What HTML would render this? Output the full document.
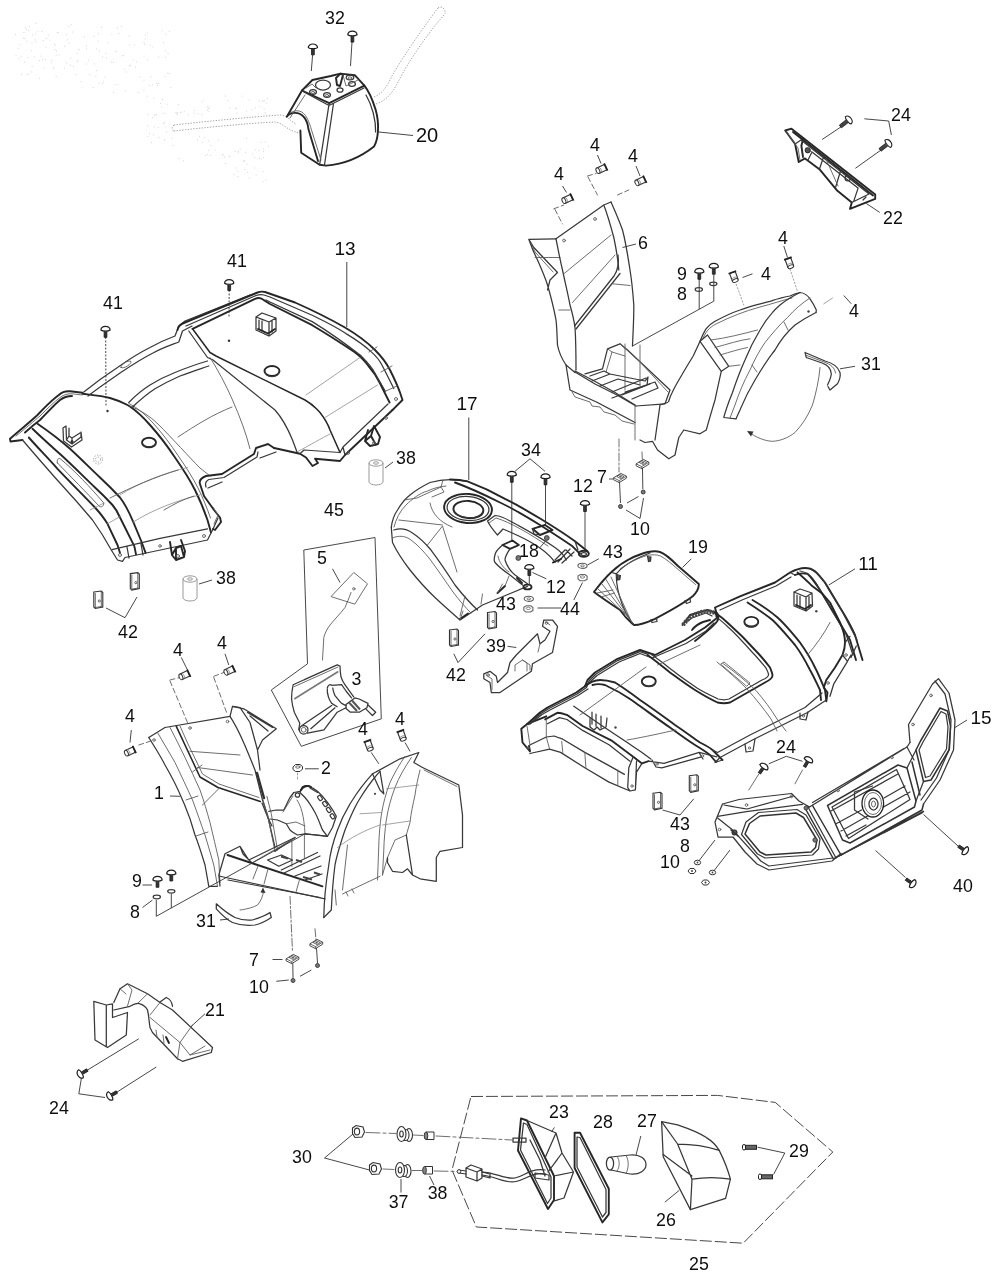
<!DOCTYPE html>
<html><head><meta charset="utf-8">
<style>
html,body{margin:0;padding:0;background:#fff;}
body{width:1000px;height:1281px;overflow:hidden;font-family:"Liberation Sans",sans-serif;}
svg{display:block;}
text{font-family:"Liberation Sans",sans-serif;font-size:17.8px;fill:#111;text-anchor:middle;}
.k{fill:none;stroke:#262626;stroke-width:1.9;stroke-linejoin:round;stroke-linecap:round;}
.m{fill:none;stroke:#383838;stroke-width:1.25;stroke-linejoin:round;stroke-linecap:round;}
.t{fill:none;stroke:#5e5e5e;stroke-width:0.9;stroke-linejoin:round;stroke-linecap:round;}
.f{fill:none;stroke:#8c8c8c;stroke-width:0.8;stroke-linejoin:round;stroke-linecap:round;}
.d{fill:none;stroke:#444;stroke-width:0.8;stroke-dasharray:7 4;}
.g{fill:none;stroke:#969696;stroke-width:0.9;stroke-dasharray:1.3 1.5;}
.l{fill:none;stroke:#333;stroke-width:0.9;}
.w{fill:#fff;}
</style></head><body>
<svg width="1000" height="1281" viewBox="0 0 1000 1281">
<rect width="1000" height="1281" fill="#fff"/>
<defs><filter id="soft" x="0" y="0" width="1000" height="1281" filterUnits="userSpaceOnUse"><feGaussianBlur stdDeviation="0.45"/></filter></defs>
<g filter="url(#soft)">
<!--PARTS-->
<defs>
<!-- pan head screw pointing down, origin at head centre -->
<g id="scr">
<path d="M-4.6,1.2 C-4.8,-3.6 4.8,-3.6 4.6,1.2 C3,2.6 -3,2.6 -4.6,1.2Z" fill="#fff" stroke="#1c1c1c" stroke-width="1.2"/>
<path d="M-1.4,2.4 V8.5 H1.4 V2.4" fill="#333" stroke="#1c1c1c" stroke-width="0.8"/>
</g>
<!-- small clip (part 4) -->
<g id="clip4"><g transform="rotate(-25)">
<path d="M-4.500,-3 H4 V3 H-4.500" fill="#fff" stroke="#333" stroke-width="1.100"/>
<ellipse cx="-4.500" cy="0" rx="1.700" ry="3" fill="#fff" stroke="#333" stroke-width="1"/>
<path d="M4.200,-4 V4" fill="none" stroke="#222" stroke-width="1.800"/>
<path d="M-2,-3 C-0.800,-1 -0.800,1 -2,3" fill="none" stroke="#777" stroke-width="0.700"/>
</g></g>
</defs>

<g id="ghostdots" fill="#cfcfcf"><rect x="65.8" y="33.8" width="0.9" height="0.9"/><rect x="117.2" y="27.7" width="0.9" height="0.9"/><rect x="99.1" y="50.5" width="0.9" height="0.9"/><rect x="24.1" y="61.6" width="0.9" height="0.9"/><rect x="20.9" y="55.8" width="0.9" height="0.9"/><rect x="26.0" y="29.1" width="0.9" height="0.9"/><rect x="81.6" y="86.5" width="0.9" height="0.9"/><rect x="34.4" y="39.4" width="0.9" height="0.9"/><rect x="105.6" y="52.9" width="0.9" height="0.9"/><rect x="149.8" y="44.6" width="0.9" height="0.9"/><rect x="37.6" y="31.2" width="0.9" height="0.9"/><rect x="43.4" y="67.4" width="0.9" height="0.9"/><rect x="115.3" y="51.0" width="0.9" height="0.9"/><rect x="101.0" y="26.9" width="0.9" height="0.9"/><rect x="24.4" y="38.1" width="0.9" height="0.9"/><rect x="121.8" y="55.4" width="0.9" height="0.9"/><rect x="64.3" y="67.7" width="0.9" height="0.9"/><rect x="86.1" y="45.4" width="0.9" height="0.9"/><rect x="139.7" y="76.5" width="0.9" height="0.9"/><rect x="53.3" y="66.8" width="0.9" height="0.9"/><rect x="129.5" y="44.5" width="0.9" height="0.9"/><rect x="168.9" y="31.2" width="0.9" height="0.9"/><rect x="80.6" y="81.1" width="0.9" height="0.9"/><rect x="38.9" y="60.1" width="0.9" height="0.9"/><rect x="21.2" y="74.1" width="0.9" height="0.9"/><rect x="135.0" y="66.7" width="0.9" height="0.9"/><rect x="152.5" y="46.5" width="0.9" height="0.9"/><rect x="124.2" y="68.4" width="0.9" height="0.9"/><rect x="106.0" y="57.6" width="0.9" height="0.9"/><rect x="146.9" y="95.7" width="0.9" height="0.9"/><rect x="89.4" y="73.8" width="0.9" height="0.9"/><rect x="144.0" y="44.2" width="0.9" height="0.9"/><rect x="75.6" y="74.2" width="0.9" height="0.9"/><rect x="18.5" y="58.0" width="0.9" height="0.9"/><rect x="41.4" y="31.1" width="0.9" height="0.9"/><rect x="35.3" y="41.3" width="0.9" height="0.9"/><rect x="27.7" y="57.0" width="0.9" height="0.9"/><rect x="143.6" y="89.4" width="0.9" height="0.9"/><rect x="58.7" y="54.4" width="0.9" height="0.9"/><rect x="165.4" y="33.8" width="0.9" height="0.9"/><rect x="42.7" y="40.1" width="0.9" height="0.9"/><rect x="51.6" y="59.8" width="0.9" height="0.9"/><rect x="107.5" y="42.5" width="0.9" height="0.9"/><rect x="15.6" y="54.7" width="0.9" height="0.9"/><rect x="73.0" y="66.2" width="0.9" height="0.9"/><rect x="164.6" y="75.9" width="0.9" height="0.9"/><rect x="95.9" y="70.2" width="0.9" height="0.9"/><rect x="121.2" y="26.2" width="0.9" height="0.9"/><rect x="156.2" y="82.8" width="0.9" height="0.9"/><rect x="152.3" y="84.2" width="0.9" height="0.9"/><rect x="76.6" y="53.1" width="0.9" height="0.9"/><rect x="31.3" y="71.5" width="0.9" height="0.9"/><rect x="24.8" y="27.3" width="0.9" height="0.9"/><rect x="47.8" y="34.7" width="0.9" height="0.9"/><rect x="68.4" y="26.1" width="0.9" height="0.9"/><rect x="15.0" y="33.8" width="0.9" height="0.9"/><rect x="30.9" y="50.4" width="0.9" height="0.9"/><rect x="111.4" y="33.6" width="0.9" height="0.9"/><rect x="54.6" y="49.1" width="0.9" height="0.9"/><rect x="72.2" y="31.6" width="0.9" height="0.9"/><rect x="88.2" y="59.7" width="0.9" height="0.9"/><rect x="28.5" y="30.0" width="0.9" height="0.9"/><rect x="68.8" y="42.7" width="0.9" height="0.9"/><rect x="145.1" y="34.6" width="0.9" height="0.9"/><rect x="97.9" y="33.4" width="0.9" height="0.9"/><rect x="150.5" y="76.3" width="0.9" height="0.9"/><rect x="56.0" y="50.6" width="0.9" height="0.9"/><rect x="98.6" y="82.8" width="0.9" height="0.9"/><rect x="66.8" y="39.4" width="0.9" height="0.9"/><rect x="148.9" y="84.9" width="0.9" height="0.9"/><rect x="143.5" y="79.7" width="0.9" height="0.9"/><rect x="50.6" y="62.4" width="0.9" height="0.9"/><rect x="70.8" y="24.3" width="0.9" height="0.9"/><rect x="19.4" y="43.8" width="0.9" height="0.9"/><rect x="55.7" y="76.0" width="0.9" height="0.9"/><rect x="165.2" y="56.9" width="0.9" height="0.9"/><rect x="162.1" y="99.1" width="0.9" height="0.9"/><rect x="164.9" y="50.4" width="0.9" height="0.9"/><rect x="49.6" y="39.7" width="0.9" height="0.9"/><rect x="45.9" y="37.9" width="0.9" height="0.9"/><rect x="113.0" y="92.2" width="0.9" height="0.9"/><rect x="146.9" y="59.4" width="0.9" height="0.9"/><rect x="117.5" y="84.4" width="0.9" height="0.9"/><rect x="28.3" y="73.5" width="0.9" height="0.9"/><rect x="157.8" y="83.0" width="0.9" height="0.9"/><rect x="132.8" y="59.3" width="0.9" height="0.9"/><rect x="167.6" y="52.9" width="0.9" height="0.9"/><rect x="128.8" y="35.3" width="0.9" height="0.9"/><rect x="34.9" y="33.8" width="0.9" height="0.9"/><rect x="157.1" y="84.9" width="0.9" height="0.9"/><rect x="168.9" y="73.3" width="0.9" height="0.9"/><rect x="70.0" y="64.8" width="0.9" height="0.9"/><rect x="35.6" y="23.1" width="0.9" height="0.9"/><rect x="167.4" y="72.7" width="0.9" height="0.9"/><rect x="144.7" y="38.5" width="0.9" height="0.9"/><rect x="54.5" y="44.9" width="0.9" height="0.9"/><rect x="52.8" y="67.7" width="0.9" height="0.9"/><rect x="55.7" y="54.7" width="0.9" height="0.9"/><rect x="70.5" y="57.7" width="0.9" height="0.9"/><rect x="93.8" y="63.5" width="0.9" height="0.9"/><rect x="84.1" y="36.3" width="0.9" height="0.9"/><rect x="42.1" y="58.9" width="0.9" height="0.9"/><rect x="128.9" y="65.4" width="0.9" height="0.9"/><rect x="66.2" y="62.4" width="0.9" height="0.9"/><rect x="102.2" y="83.2" width="0.9" height="0.9"/><rect x="31.7" y="65.7" width="0.9" height="0.9"/><rect x="54.0" y="43.6" width="0.9" height="0.9"/><rect x="136.2" y="61.6" width="0.9" height="0.9"/><rect x="103.2" y="81.3" width="0.9" height="0.9"/><rect x="158.3" y="56.6" width="0.9" height="0.9"/><rect x="111.2" y="61.4" width="0.9" height="0.9"/><rect x="95.4" y="76.0" width="0.9" height="0.9"/><rect x="86.0" y="63.6" width="0.9" height="0.9"/><rect x="124.8" y="90.4" width="0.9" height="0.9"/><rect x="162.9" y="42.2" width="0.9" height="0.9"/><rect x="146.9" y="32.7" width="0.9" height="0.9"/><rect x="34.1" y="56.5" width="0.9" height="0.9"/><rect x="26.4" y="40.8" width="0.9" height="0.9"/><rect x="26.5" y="74.2" width="0.9" height="0.9"/><rect x="138.1" y="92.0" width="0.9" height="0.9"/><rect x="39.2" y="77.9" width="0.9" height="0.9"/><rect x="118.7" y="33.2" width="0.9" height="0.9"/><rect x="153.6" y="97.5" width="0.9" height="0.9"/><rect x="77.5" y="60.0" width="0.9" height="0.9"/><rect x="170.4" y="86.9" width="0.9" height="0.9"/><rect x="40.4" y="55.7" width="0.9" height="0.9"/><rect x="95.9" y="48.5" width="0.9" height="0.9"/><rect x="45.7" y="46.8" width="0.9" height="0.9"/><rect x="102.0" y="56.4" width="0.9" height="0.9"/><rect x="17.8" y="47.9" width="0.9" height="0.9"/><rect x="113.0" y="62.0" width="0.9" height="0.9"/><rect x="31.5" y="42.7" width="0.9" height="0.9"/><rect x="57.5" y="32.1" width="0.9" height="0.9"/><rect x="143.6" y="42.2" width="0.9" height="0.9"/><rect x="104.6" y="76.6" width="0.9" height="0.9"/><rect x="29.0" y="26.5" width="0.9" height="0.9"/><rect x="123.0" y="55.2" width="0.9" height="0.9"/><rect x="114.6" y="84.5" width="0.9" height="0.9"/><rect x="86.2" y="48.5" width="0.9" height="0.9"/><rect x="57.1" y="32.1" width="0.9" height="0.9"/><rect x="97.7" y="40.6" width="0.9" height="0.9"/><rect x="32.2" y="34.6" width="0.9" height="0.9"/><rect x="22.9" y="37.7" width="0.9" height="0.9"/><rect x="64.0" y="45.8" width="0.9" height="0.9"/><rect x="134.2" y="44.6" width="0.9" height="0.9"/><rect x="93.5" y="35.9" width="0.9" height="0.9"/><rect x="130.1" y="65.0" width="0.9" height="0.9"/><rect x="44.7" y="59.0" width="0.9" height="0.9"/><rect x="161.7" y="30.3" width="0.9" height="0.9"/><rect x="143.6" y="55.7" width="0.9" height="0.9"/><rect x="92.7" y="87.1" width="0.9" height="0.9"/><rect x="76.7" y="61.5" width="0.9" height="0.9"/><rect x="126.0" y="71.6" width="0.9" height="0.9"/><rect x="78.5" y="49.1" width="0.9" height="0.9"/><rect x="23.5" y="32.1" width="0.9" height="0.9"/><rect x="177.9" y="104.0" width="0.9" height="0.9"/><rect x="252.3" y="153.7" width="0.9" height="0.9"/><rect x="181.1" y="111.7" width="0.9" height="0.9"/><rect x="166.1" y="131.7" width="0.9" height="0.9"/><rect x="264.7" y="141.6" width="0.9" height="0.9"/><rect x="147.1" y="125.4" width="0.9" height="0.9"/><rect x="204.4" y="137.3" width="0.9" height="0.9"/><rect x="171.3" y="137.5" width="0.9" height="0.9"/><rect x="147.6" y="113.9" width="0.9" height="0.9"/><rect x="157.9" y="127.2" width="0.9" height="0.9"/><rect x="183.8" y="110.8" width="0.9" height="0.9"/><rect x="217.9" y="139.9" width="0.9" height="0.9"/><rect x="237.8" y="152.4" width="0.9" height="0.9"/><rect x="233.6" y="174.2" width="0.9" height="0.9"/><rect x="266.2" y="102.6" width="0.9" height="0.9"/><rect x="234.6" y="151.0" width="0.9" height="0.9"/><rect x="254.9" y="149.5" width="0.9" height="0.9"/><rect x="235.8" y="167.6" width="0.9" height="0.9"/><rect x="163.9" y="139.3" width="0.9" height="0.9"/><rect x="244.4" y="169.0" width="0.9" height="0.9"/><rect x="229.6" y="155.9" width="0.9" height="0.9"/><rect x="163.1" y="123.3" width="0.9" height="0.9"/><rect x="214.6" y="149.5" width="0.9" height="0.9"/><rect x="222.8" y="154.7" width="0.9" height="0.9"/><rect x="243.5" y="161.3" width="0.9" height="0.9"/><rect x="207.9" y="140.4" width="0.9" height="0.9"/><rect x="236.2" y="112.7" width="0.9" height="0.9"/><rect x="156.0" y="114.0" width="0.9" height="0.9"/><rect x="235.2" y="108.1" width="0.9" height="0.9"/><rect x="205.0" y="155.0" width="0.9" height="0.9"/><rect x="239.8" y="148.5" width="0.9" height="0.9"/><rect x="224.8" y="95.6" width="0.9" height="0.9"/><rect x="164.8" y="112.9" width="0.9" height="0.9"/><rect x="154.3" y="114.3" width="0.9" height="0.9"/><rect x="228.3" y="155.8" width="0.9" height="0.9"/><rect x="203.4" y="99.6" width="0.9" height="0.9"/><rect x="255.1" y="107.5" width="0.9" height="0.9"/><rect x="265.4" y="179.8" width="0.9" height="0.9"/><rect x="149.1" y="133.0" width="0.9" height="0.9"/><rect x="201.4" y="114.3" width="0.9" height="0.9"/><rect x="172.5" y="145.0" width="0.9" height="0.9"/><rect x="164.2" y="139.4" width="0.9" height="0.9"/><rect x="262.3" y="101.0" width="0.9" height="0.9"/><rect x="246.2" y="137.9" width="0.9" height="0.9"/><rect x="254.3" y="156.9" width="0.9" height="0.9"/><rect x="147.4" y="136.2" width="0.9" height="0.9"/><rect x="164.0" y="121.7" width="0.9" height="0.9"/><rect x="248.5" y="99.8" width="0.9" height="0.9"/><rect x="259.1" y="157.9" width="0.9" height="0.9"/><rect x="267.9" y="145.7" width="0.9" height="0.9"/><rect x="177.2" y="114.0" width="0.9" height="0.9"/><rect x="208.8" y="106.6" width="0.9" height="0.9"/><rect x="254.0" y="167.6" width="0.9" height="0.9"/><rect x="260.8" y="141.8" width="0.9" height="0.9"/><rect x="238.1" y="151.2" width="0.9" height="0.9"/><rect x="259.1" y="100.5" width="0.9" height="0.9"/><rect x="183.0" y="160.4" width="0.9" height="0.9"/><rect x="265.1" y="113.5" width="0.9" height="0.9"/><rect x="167.2" y="103.8" width="0.9" height="0.9"/><rect x="207.1" y="109.6" width="0.9" height="0.9"/><rect x="201.4" y="101.7" width="0.9" height="0.9"/><rect x="175.9" y="113.3" width="0.9" height="0.9"/><rect x="197.1" y="139.4" width="0.9" height="0.9"/><rect x="154.5" y="115.2" width="0.9" height="0.9"/><rect x="264.1" y="100.3" width="0.9" height="0.9"/><rect x="207.9" y="149.7" width="0.9" height="0.9"/><rect x="251.4" y="109.2" width="0.9" height="0.9"/><rect x="179.8" y="112.3" width="0.9" height="0.9"/><rect x="262.4" y="171.2" width="0.9" height="0.9"/><rect x="246.9" y="171.8" width="0.9" height="0.9"/><rect x="264.6" y="112.3" width="0.9" height="0.9"/><rect x="160.2" y="103.1" width="0.9" height="0.9"/><rect x="210.2" y="154.8" width="0.9" height="0.9"/><rect x="260.9" y="158.7" width="0.9" height="0.9"/><rect x="225.3" y="163.0" width="0.9" height="0.9"/><rect x="202.3" y="142.0" width="0.9" height="0.9"/><rect x="162.5" y="112.7" width="0.9" height="0.9"/><rect x="224.0" y="156.5" width="0.9" height="0.9"/><rect x="210.5" y="145.1" width="0.9" height="0.9"/><rect x="194.0" y="109.9" width="0.9" height="0.9"/><rect x="263.0" y="151.2" width="0.9" height="0.9"/><rect x="175.4" y="112.2" width="0.9" height="0.9"/><rect x="263.2" y="157.1" width="0.9" height="0.9"/><rect x="207.3" y="154.1" width="0.9" height="0.9"/><rect x="197.8" y="113.2" width="0.9" height="0.9"/><rect x="229.6" y="107.4" width="0.9" height="0.9"/><rect x="243.4" y="160.4" width="0.9" height="0.9"/><rect x="208.1" y="108.1" width="0.9" height="0.9"/><rect x="246.2" y="110.6" width="0.9" height="0.9"/><rect x="207.0" y="106.4" width="0.9" height="0.9"/><rect x="164.7" y="126.6" width="0.9" height="0.9"/><rect x="154.3" y="126.5" width="0.9" height="0.9"/><rect x="255.7" y="174.6" width="0.9" height="0.9"/><rect x="262.6" y="100.1" width="0.9" height="0.9"/><rect x="263.7" y="108.3" width="0.9" height="0.9"/><rect x="153.0" y="134.4" width="0.9" height="0.9"/><rect x="258.3" y="113.2" width="0.9" height="0.9"/><rect x="237.4" y="176.1" width="0.9" height="0.9"/><rect x="188.0" y="114.7" width="0.9" height="0.9"/><rect x="262.9" y="148.5" width="0.9" height="0.9"/><rect x="178.7" y="158.2" width="0.9" height="0.9"/><rect x="257.9" y="150.1" width="0.9" height="0.9"/><rect x="262.8" y="181.5" width="0.9" height="0.9"/><rect x="193.8" y="112.6" width="0.9" height="0.9"/><rect x="199.0" y="136.4" width="0.9" height="0.9"/><rect x="259.3" y="105.9" width="0.9" height="0.9"/><rect x="244.1" y="160.4" width="0.9" height="0.9"/><rect x="246.6" y="163.7" width="0.9" height="0.9"/><rect x="241.7" y="95.7" width="0.9" height="0.9"/><rect x="151.1" y="142.2" width="0.9" height="0.9"/><rect x="158.7" y="136.9" width="0.9" height="0.9"/><rect x="222.1" y="154.1" width="0.9" height="0.9"/><rect x="237.5" y="171.0" width="0.9" height="0.9"/><rect x="227.4" y="99.9" width="0.9" height="0.9"/><rect x="236.3" y="107.5" width="0.9" height="0.9"/><rect x="176.9" y="112.0" width="0.9" height="0.9"/><rect x="208.4" y="110.7" width="0.9" height="0.9"/><rect x="244.8" y="152.0" width="0.9" height="0.9"/><rect x="266.9" y="98.0" width="0.9" height="0.9"/><rect x="248.7" y="177.6" width="0.9" height="0.9"/><rect x="151.9" y="116.8" width="0.9" height="0.9"/><rect x="161.4" y="106.6" width="0.9" height="0.9"/></g>

<g id="p20">
<!-- ghost handlebar -->
<path class="g" d="M174,125 C200,122 250,117 280,115 C287,115 290,121 296,124 M174,131 C200,128 250,123 276,122 C284,124 288,131 300,133 M174,125 C171,127 172,131 174,131 M374,97 C384,93 388,84 392,76 C402,58 425,25 438,8 M376,104 C388,100 394,90 398,82 C408,62 430,30 445,14 M438,8 C441,5 446,9 445,14"/>
<!-- body -->
<path class="k" d="M302,90.5 L286.8,116.8 C290,112 299,111 304.4,117.6 C307,121 308,125 308.4,129 L318,161 M300.4,130.5 L301.2,152.8 L319.6,164.8 L326,165.6 C345,164 362,156 374,146.4 C378,140 380,125 375.6,109.6 C372,98 368,90 364.4,85.6"/>
<path class="k" d="M302,90.5 L312.4,80 L330.8,76 L340.4,73.6 L354.8,75.2 L364.4,85.6 L329.2,103.2 Z"/>
<path class="m" d="M329.2,103.2 L319.6,164.8 M333.5,103.5 L324.4,165.5 M366,95 C372,105 376,120 375.6,132 M304,92 L329,105.5 L364,88"/>
<path class="t" d="M290,113 C296,109 303,110 307,118 C309,122 311,128 311.5,130 L321,160 M305,95 L290,118"/>
<!-- top face details -->
<ellipse class="m" cx="323" cy="85" rx="7.5" ry="5"/>
<ellipse class="m" cx="313" cy="92" rx="3.4" ry="2.4"/><ellipse class="t" cx="313" cy="92.4" rx="1.6" ry="1.1"/>
<ellipse class="m" cx="327" cy="95" rx="3.4" ry="2.4"/><ellipse class="t" cx="327" cy="95.4" rx="1.6" ry="1.1"/>
<ellipse class="m" cx="340" cy="90" rx="3" ry="2.2"/>
<ellipse class="m" cx="352" cy="84" rx="3.4" ry="2.4"/>
<ellipse class="m" cx="350" cy="77.5" rx="3.8" ry="2.4"/><ellipse class="t" cx="350" cy="78" rx="1.8" ry="1.2"/>
<path class="k" d="M336,78 L340.4,73.6 L343,75 L340,86 L337,85 Z"/>
<path class="t" d="M306,88 L312,84 L316,88 M343,75 L346,86 L358,80"/>
<!-- leader -->
<path class="l" d="M378.8,132 L413,135.5"/>
<!-- screws 32 -->
<path class="l" d="M312.6,55 L311.3,71 M352,42 L350.5,66"/>
<use href="#scr" x="312.9" y="46.4"/><use href="#scr" x="352.4" y="33.6"/>
</g>

<g id="p13">
<!-- left fender rail -->
<path class="k" d="M10,438.8 C20,430 30,422 37.5,415 C45,407 52,400 58.8,395 C62,392 66,391 70,391.3 L82.5,392.8 M10,438.8 L10.500,441.500 L22.500,440 M25,432.5 C30,428 36,423 40,420 C47,413 54,405 60,400 C64,397 68,396 72,396"/>
<path class="t" d="M16,436 C26,428 34,421 40,416 C48,408 54,402 60,397.5 C64,394.5 68,393.5 72,393.8 L82,395"/>
<!-- left fender big arc -->
<path class="k" d="M82.5,393.8 C92,395 102,396 110,398 C117,400 122,402 127.5,405 C136,410 143,417 150,425 C160,436 168,447 175,457.5 C183,469 190,480 195,490 C200,500 204,510 207.5,520 L211,532.5"/>
<path class="t" d="M129,403.500 C138,408 146,415 153,423 C163,434 171,445 178,455.500 C186,467 193,478 198,488 C203,498 207,508 210.500,518"/><path class="t" d="M130,406 C140,410 150,416 158,424 C172,438 190,458 200,468 L210,476"/>
<!-- left side -->
<path class="m" d="M22.500,440 L37.500,457.500 L55,477.500 L77.500,502.500 L92.500,520 L102.500,535 L111.300,550 L117.500,560 L122.500,561.300 L125,557.500 L207.500,540 L213,529 L218,518"/>
<path class="k" d="M37.500,423.800 C48,431 60,440 70,448.800 C80,458 90,468 100,477.500 C107,484 114,491 120,497.500 C125,504 129,512 132.800,520.800 L140.800,540 L145.600,552.800"/>
<path class="k" d="M32.500,428.800 C42,438 52,447 62.500,456.300 C73,466 84,477 95,487.500 C101,493 107,499 112.500,505 C116,509 118,513 120,517.500 L125,527.500 L134.400,546.400 L136,554.400"/>
<path class="k" d="M28.800,437.500 C38,448 48,458 57.500,468.800 C70,482 83,495 95,507.500 C100,513 104,518 107.500,523.800 L117.500,545 L120,553"/>
<path class="m" d="M112,549.600 L160,538.400 L207.500,528.800 M127,547 L129,558 M141,544 L143,555"/>
<path class="t" d="M57.500,463 C56.500,460 58,458 60,458.500 C75,471 90,487 103.800,503 C104,506 101,508 99,506 C86,492 71,477 57.500,463Z"/>
<path class="f" d="M120,495 C140,482 165,473 187.500,467.500 M132.500,522.500 C152,510 178,500 200,495 M90,510 L104,503 M107.500,523.800 L121,516"/>
<!-- latch left -->
<path class="m" d="M63,428 L66,426 L66.5,440 L72,444 L81,437 L81,432 M63,428 L63.5,441 L71.5,447 L82,440 L81,432 M66.5,440 L69,436 L72,438 L72,444 M69,436 L69,428 M72,438 L80,433"/>
<circle cx="72" cy="441.5" r="1.5" fill="#333"/>
<ellipse class="k" cx="149" cy="442.5" rx="7" ry="4.8"/><path class="m" d="M142.5,443.5 C144,448 154,448 155.5,443.5"/>
<circle class="g" cx="98" cy="459.5" r="4.5"/><circle class="g" cx="98" cy="459.5" r="2.5"/>
<circle cx="107.5" cy="411" r="1.2" fill="#333"/>
<circle class="t" cx="120" cy="555" r="1.5"/><circle class="t" cx="160" cy="546" r="1.3"/><circle class="t" cx="204" cy="536" r="1.5"/>
<!-- foot tab left -->
<path class="k" d="M170,542 L172,555 L176,560 L184,557 L185,551 L181,540 M172,555 L176,548 L181,546 L184,557 M176,548 L176,560"/>
<circle class="t" cx="178" cy="556" r="1.5"/>
<!-- middle rim -->
<path class="m" d="M83.8,392 C95,383 106,375 117.5,367.5 C128,360 139,353 150,347.5 C158,343 167,339 175,336 L178.8,326 L185,321 L250,295"/>
<path class="m" d="M88,396 C98,388 110,380 120,373 C132,365 143,358 153,353 C162,348 171,345 178.8,342 L182.5,331 L192,326"/>
<path class="t" d="M121,367.5 C120,365 128,359.5 131,361.5 C132,363.5 124,369.5 121,367.5Z"/>
<!-- middle panel arc -->
<path class="m" d="M128.8,402.5 C135,396 142,390 150,385 C158,380 166,376 175,372.5 C186,368 197,364 207.5,361"/>
<path class="m" d="M132.5,407 C140,400 147,394 155,388.8 C163,384 171,380 180,376 C190,372 200,369 208.8,366"/>
<path class="t" d="M178,437 C196,425 214,414 232,407 M110,498 C132,487 155,477 178,470 M164,510 C174,504 184,499 194,496"/>
<!-- right fender rail -->
<path class="k" d="M177.5,330 C178,326 181,324 185,322.5 L257.5,292.5 C260,291.5 263,291.5 265,292 L295,302.5 C312,310 330,319 345,327.5 C356,334 367,342 375,350 C382,357 387,364 390,370 C395,380 398,387 400,392.5 L402.5,400 L392.5,410"/>
<path class="k" d="M192.500,328.800 L255,298.800 C258,297.500 261,298 263,299.500 L270,304 L312.200,325.200 C327,334 341,343 354.400,351.900 C360,356 365,361 368.500,366 C373,371 377,377 379.700,382.800 L389.600,402.500"/>
<path class="m" d="M186,326 L256,295.500 C259,294.500 262,294.500 264,295 L270,297 L312.200,315.300 C324,321 336,327 346,333.600 C355,339 364,345 371.300,351.900 C376,356 380,361 382.500,366 L393.800,388.500"/>
<path class="m" d="M266,300 L270,302 L312.200,321.600 C329,332 346,344 361.400,356.100 C366,361 371,366 374,371.600 L385.300,391.300"/>
<path class="t" d="M369,352 L377,347 M381,372 L392,366 M385.300,391.300 L397,386"/>
<!-- right fender surfaces -->
<path class="k" style="stroke-width:1.500" d="M192.5,328.8 L210,352.5 L216,356 L305,400 C312,404 316,408 320,412.5 C325,419 328,424 330,430 L340,452.5"/>
<path class="m" d="M188.800,331 L207.5,357.5 L213,360 L275,410 C283,419 288,429 292.5,440 L297,452"/>
<path class="t" d="M210,357.5 C218,370 226,385 232.5,400 C240,417 246,433 250,448.8"/>
<path class="f" d="M306,395 L360,357.5 M325,417.5 L377.5,385 M297,452 C310,445 322,438 330,434"/>
<path class="k" d="M392.5,410 L345,455 L340,461 L315,458.8 L318,463 L312.5,466 L306,457.5 L300,453.8 L277.5,448.8 L274,448"/>
<path class="m" d="M388,404 L343,447 L340,452.5 M345,455 L343,447 M300,453.800 L304,450 L340,452.5"/>
<path class="k" d="M274,448 L268,444 L256,448 L254,454 L222,474 L206,476 C201,478 199,481 200,484 L204,496 L214,510 L220,517.5 L221,522 L215,530 L213,529"/>
<path class="m" d="M258,452 L257,457 L224,477.500 L209,479.500 C206,481 205,484 206,487 M208,488 L222,482 M260,458 L276,452"/>
<path class="t" d="M213,507 L218,515 L214,524"/>
<circle class="t" cx="386" cy="418" r="1.4"/><circle class="t" cx="348" cy="453" r="1.4"/><circle class="t" cx="396" cy="399" r="1.5"/>
<!-- latch right -->
<path class="m" d="M256,317 L262,313 L276,318 L276,331 L269,336 L256,330Z M256,317 L269,322 L276,318 M269,322 L269,336 M259,320 L259,329 M262,321 L262,330.500 M272,321 L272,332"/>
<path class="k" d="M258,329 L268,333.500 L275,329"/>
<ellipse class="k" cx="272" cy="371" rx="7.5" ry="5"/><path class="m" d="M265,372 C266,378 278,378 279,372"/>
<circle cx="229" cy="340.8" r="1.2" fill="#333"/>
<!-- right foot -->
<path class="k" d="M368,430 L365,441 L370,446 L378,444 L380,437 L374,426 M365,441 L371,436 L374,426 M371,436 L376,445"/>
<circle class="t" cx="374" cy="443" r="1.4"/>
<!-- screws & leaders -->
<path class="l" d="M346.8,262 L346.8,327"/>
<path class="l" stroke-dasharray="2 1.5" d="M229.2,290 L229,317.500 M105.700,337 L106,407"/>
<use href="#scr" x="229.2" y="282"/><use href="#scr" x="105.5" y="328.8"/>
<!-- spacers 38 -->
<g stroke="#999" stroke-width="1" fill="none"><ellipse cx="376" cy="463" rx="7" ry="3.2"/><path d="M369,463 V482 C370,486 382,486 383,482 V463"/><ellipse cx="376" cy="463" rx="2.5" ry="1.2"/>
<ellipse cx="190" cy="579" rx="7" ry="3.2"/><path d="M183,579 V598 C184,602 196,602 197,598 V579"/><ellipse cx="190" cy="579" rx="2.5" ry="1.2"/></g>
<path class="l" d="M385,468 L393,462 M199,584 L212,580"/>
</g>

<g id="p6">
<!-- flap -->
<path class="m" d="M528.8,239.3 L556,238.8 M528.8,239.3 L533.8,247.5 L557.5,272.5 L550,280 L547.5,290 M528.8,239.3 C531,246 534,253 537.5,260 C541,268 545,277 547.5,285 C551,297 554,309 556,320 C557,328 557,337 557.5,345 C559,353 562,359 566,365 L575,372.5"/>
<path class="t" d="M531,243 L535,252 L553,272 M535,257.500 L560,257.500"/>
<!-- main panel -->
<path class="m" d="M556,238.8 L603.8,205 L611,202 M603.800,205 C608,216 611,227 613.8,237.5 C616,248 618,259 618.8,270"/>
<path class="m" d="M611,202 C615,211 619,220 622.5,230 C626,243 628,257 630,270 C632,282 633,294 633.8,305 C634,318 633,332 632.5,346"/>
<path class="m" d="M556,238.8 C558,249 560,260 562.5,270 C565,282 568,294 570,305 C572,312 574,320 575,327.5 C576,342 576,356 576,370"/>
<path class="m" d="M574.5,326 L614,276 C618,270 619,262 618,255 M576,329 L620,273.500"/>
<path class="t" d="M563.8,273.8 L611,235 M572.5,302.5 L615,255 M612.500,283.800 L630,285.500 M558.8,310 L570,310"/>
<circle class="t" cx="595" cy="219" r="1.4"/><circle class="t" cx="564" cy="240.500" r="1.4"/>
<path class="l" d="M622.5,247.5 L636,244"/>
<!-- floor -->
<path class="m" d="M566,365 L570,390 L597.5,402.5 L635,422.5 M575,371 L592.500,380 L615,392.500 L635,405"/>
<path class="m" d="M575,372 L595,384 L616,394.500 L636,406"/>
<path class="m" d="M585,373.8 L602.5,368.8 L607.5,348.8 L620,343.8 L627.5,350 L670,390 L665,403.8 L636,406"/>
<path class="t" d="M607.5,348.8 L612,352 L625,356 M612,352 L606,372 M625,344 L625,390 M640,345 L640,385 M620,343.8 L640,362 L668,392"/>
<path class="m" d="M592,381 L610,374 L645,381 L648,377 L647,385 L612,398 M600,386 L618,379 L640,385 M610,374 L604,371 L590,376 M625,392 L655,382 L658,388 L632,399"/>
<path class="m" d="M612,392 L646,378 M622,395 L650,384"/>
<path class="t" d="M572,392 L575,397 L590,402 L592,406 L600,407 L604,412 L615,415 L622,421 L634,424 M635,405 L635,440"/>
<!-- long leader -->
<path class="l" d="M632.5,346 L713.8,301.2 L713.800,275 M699.2,309.2 L699.2,278"/>
<!-- fender -->
<path class="m" d="M668.500,401.700 C670,397 671,394.500 672.300,392.200 C675,386.500 678.500,380.500 681.800,375 C685.500,368.500 689.500,362 693.200,356 L698.900,343.700 L700,341.300 C702,336 704,332 706,328.8 C709,325 712,323 715,321.3 C723,317 731,313 740,310 C750,306 760,304 770,301.3 C777,299 784,297 790,296 C794,294 797,293 800,292.5 C805,293 808,296 810,298.8 C813,303 815,307 816.3,310 L816,312.5"/>
<path class="t" d="M703,338 C707,329 712,326 717,323.500 C730,317 745,311 760,307 C772,304 783,300 792,298"/>
<path class="m" d="M800,292.5 C793,296 786,300 780,305 C772,312 765,321 760,330 C754,340 749,350 745,360 C740,371 736,382 732.5,392.5 C729,401 726,409 723.8,417.5 L736,418.8"/>
<path class="m" d="M816,312.5 C809,316 802,320 795,325 C787,332 780,341 775,350 C767,360 761,370 755,380 C749,390 744,400 740,410 L736,418.8"/>
<path class="t" d="M810,298 C802,303 794,310 787.5,317.5 C779,325 772,334 765,342.5 C759,351 754,361 750,370 C744,381 739,393 735,405 L730,418 M784,322 L788,330 M752,365 L757,372"/>
<path class="m" d="M700,341.3 L707.5,335 L728.8,366.3 L721.3,371.3Z"/>
<path class="t" d="M711,340 C727,338 742,334 757.5,330 M715,347.500 C728,344 740,340 750,338.800 M720,355 C730,352 740,349 747.500,347.500 M728.8,366.3 L740,365"/>
<path class="m" d="M721.3,371.3 C719,381 717,391 715,400 C712,410 709,420 706.3,430 L700,433.8 L683.8,430 L678.8,437.5 L675,455 L668.8,458.8 L657.5,450 L652.5,441.3 L645,442.5 L640,440"/>
<path class="m" d="M667.5,402.5 L660,405 L655,440"/>
<circle cx="808.500" cy="311.500" r="1.2" fill="#444"/>
<!-- part 31 strip -->
<path class="m" d="M805,352.5 L825,361 C833,363 838,367 840,372.5 C841,377 839,381 837.5,383.8 L830,390 L828,386.500 M806.3,357.5 L822,363 C828,365 831,369 831.3,373.8 C831,378 829,382 827.5,385 M805,352.500 L806.3,357.5"/>
<path class="t" d="M805.500,355 L824,362 C831,364.500 835,368 835.500,373"/>
<path class="l" d="M840,368.8 L855,366.3"/>
<path class="t" d="M820,367.5 C819,380 816,393 812.5,405 C808,416 802,425 795,432.5 C788,438 780,441 772.5,441.3 C764,441 756,437 749,432.500"/>
<path d="M747,431 L753.500,431.500 L751,436.500Z" fill="#333"/>
<!-- clips 4 -->
<g class="t" stroke-dasharray="5 3"><path d="M553.8,208.8 L563.8,205 M555,209.500 L562.5,224 M587.5,176 L596,173.500 M588,177 L597.5,195 M617.5,195 L628.8,190"/></g>
<path class="l" d="M562.500,186 L566.500,192.500 M597.500,155 L601,163.500 M636,166 L640,176 M783.800,246 L787.500,257.500 M742.5,277.5 L752.5,273.8 M843.8,295.5 L851.3,303.8"/>
<path class="f" stroke-dasharray="1.500 2" d="M735,281 L743.8,305 M790,269 L797.5,291.3"/>
<path class="f" d="M823.800,303.800 L832.500,298"/>
<use href="#clip4" x="568" y="198.800"/><use href="#clip4" x="602" y="168.800"/><use href="#clip4" x="641" y="181"/>
<use href="#clip4" x="733.800" y="276.300" transform="rotate(-85 733.800 276.300)"/><use href="#clip4" x="789.300" y="262.500" transform="rotate(-85 789.300 262.500)"/>
<!-- screws 9 / washers 8 -->
<use href="#scr" x="699.300" y="270.800"/><use href="#scr" x="713.800" y="265.800"/>
<ellipse class="m" cx="698.800" cy="289.500" rx="3.600" ry="1.800"/><ellipse class="m" cx="713.300" cy="283.800" rx="3.600" ry="1.800"/>
</g>

<g id="p22">
<path class="k" d="M791.5,128.7 L875.2,194.4 L875.2,198.9 L850,208.8 L851.8,202.5 L837.4,190.8 L819.4,169.2 L805,158.4 L798.7,162 L795.1,144 L785.2,130.5 L791.5,128.7"/>
<path class="k" d="M793,132 L873,195.500 M803.2,138.6 L801.4,145.8 L803,157"/>
<path class="m" d="M795.1,144 L801,140 L869,194 L851.8,202.5 M823.9,155.7 L819.4,169.2 M841,169.2 L835.6,187.2 M858.1,188.1 L853.6,201.6 M808,160 L812,152 L858,188 M863,200 L866,197"/>
<path class="t" d="M786,131 L798,148 L800,160 M826,159 L838,186 M812,152 L806,148"/>
<circle class="m" cx="847.7" cy="178.2" r="2.6"/>
<circle cx="807.7" cy="150.3" r="2.6" fill="#555" stroke="#222" stroke-width="1"/>
<path class="l" d="M866.2,203.4 L879.7,212.4 M864.4,118.8 L888.7,121 L891.4,135 M841,126.9 L822.1,139.5 M880.6,150.3 L855.4,168.3"/>
<g transform="translate(849.1,119.7) rotate(52)"><path d="M-4.600,1.200 C-4.800,-3.600 4.800,-3.600 4.600,1.200 C3,2.600 -3,2.600 -4.600,1.200Z" fill="#fff" stroke="#222" stroke-width="1.100"/><path d="M-1.700,2.400 V11 H1.700 V2.400" fill="#444" stroke="#222" stroke-width="0.800"/></g>
<g transform="translate(888.7,143.1) rotate(52)"><path d="M-4.600,1.200 C-4.800,-3.600 4.800,-3.600 4.600,1.200 C3,2.600 -3,2.600 -4.600,1.200Z" fill="#fff" stroke="#222" stroke-width="1.100"/><path d="M-1.700,2.400 V11 H1.700 V2.400" fill="#444" stroke="#222" stroke-width="0.800"/></g>
</g>

<defs>
<g id="wash"><ellipse cx="0" cy="0" rx="4.600" ry="2.600" fill="#fff" stroke="#5a5a5a" stroke-width="1.100"/><ellipse cx="0" cy="0" rx="1.800" ry="1" fill="none" stroke="#5a5a5a" stroke-width="0.800"/></g>
<g id="nut44"><path d="M-4.500,-1.500 L-2,-3 L2.500,-3 L4.600,-1.200 L4.600,1.800 L2,3.200 L-2.500,3.200 L-4.500,1.500Z" fill="#fff" stroke="#666" stroke-width="1.100"/><ellipse cx="0" cy="-0.500" rx="2.200" ry="1.200" fill="none" stroke="#666" stroke-width="0.800"/></g>
<g id="clip42"><path d="M-4.500,-8 L3,-9 L4.500,-7.500 L4.500,7 L-3,8.500 L-4.500,7Z" fill="#fff" stroke="#333" stroke-width="1.100"/><path d="M-3,-7 L-3,8.500 M3,-9 L3,6.500 L4.500,7 M3,6.500 L-3,7.500" fill="none" stroke="#444" stroke-width="0.800"/><circle cx="1" cy="1" r="1.100" fill="none" stroke="#444" stroke-width="0.800"/></g>
</defs>
<g id="p17">
<path class="m" d="M391.300,527.500 C392,521 394,515 397.500,510 C401,504 405,499 410,495 C416,490 423,486 430,482.500 C437,480.500 444,479.500 450,479.500 C456,479.500 462,480 467.500,481.300"/><path class="k" d="M450,479.500 C456,479.500 462,480 467.500,481.300 C480,486 493,492 505,498.800 C518,505 531,513 542.500,520 C554,527 565,534 575,541.300 L587.500,551.300"/>
<path class="k" d="M455,482.500 C470,488 485,495 500,502.500 C514,509 527,517 540,525 C551,532 562,539 572.500,546.300 L580,553.800"/>
<path class="m" d="M391.300,527.500 L392.500,542.500 C397,552 403,561 410,570 C418,580 426,589 435,597.500 C443,605 452,613 460,620 L482.500,605 L527.500,586.300"/>
<path class="t" d="M394,527 C396,519 400,511 406,505 C412,499 420,493 427.500,491 C434,488 440,486.500 446,486 M398.800,520 L442.500,525 M427.500,545 L442.500,526 L457,572 M404,500 L417,498 L441,487 L444,492 L432,497 M441,487 L443,480"/>
<path class="m" d="M393.800,530 C400,528 407,529 412.500,533 C420,538 426,544 431,550 C440,562 448,574 455,585 C462,594 470,603 477.500,610"/>
<path class="t" d="M392.500,538 C399,535 406,536 411,540 C418,545 424,552 429,558 C438,570 446,582 453,592 C459,600 465,607 471,613"/>
<!-- ring -->
<g transform="rotate(5 468 508.500)"><ellipse class="k" cx="468" cy="508.500" rx="24" ry="14.500"/><ellipse class="m" cx="468" cy="508.500" rx="21" ry="12"/><ellipse class="k" cx="468.500" cy="509.500" rx="15" ry="8.600"/><path class="m" d="M453.500,511 C456,520 481,520 483,510"/></g>
<path class="t" d="M430,503 C432,514 440,522 452,527"/>
<!-- slot -->
<path class="m" d="M487.500,521 L495,515.500 C500,516 505,518 510,521 C527,530 544,540 555,547.500 C560,551 564,555 566.300,560 M487.500,521 C490,526 493,530 497.500,535 M497.500,535 L503,529 C515,534 530,541 540,548 C547,553 552,558 555,562.500"/>
<path class="t" d="M489,523 L496,518 C510,522 530,534 548,546"/>
<!-- tabs -->
<path class="k" d="M532.500,528.800 L545,525 L552.500,530 L540,535Z M502.500,545 L512.500,540.500 L518.800,545 L510,548.800Z"/>
<path class="m" d="M532.500,528.800 L534,534 L540,535 M502.500,545 C498,549 495,552 495,555 C494,558 494,561 495,562.500 C499,567 504,571 510,575 L522.500,585 M510,548.800 C507,553 505,557 505,560 C507,566 510,571 515,575 L527.500,583.800"/>
<path class="t" d="M498,556 C499,562 503,568 509,572"/>
<!-- right end -->
<ellipse class="k" cx="583.800" cy="553.800" rx="5" ry="3"/><ellipse class="m" cx="583.800" cy="554" rx="2.600" ry="1.500"/>
<ellipse class="k" cx="527.500" cy="587" rx="4" ry="2.400"/>
<path class="m" d="M575,541.300 L578,550 M566,550 L572,556 M555,560 L565,550 M558,562 L570,549 M562,563 L574,552"/>
<path class="k" d="M553,562.500 L561,559 M522,583 L517,578"/>
<!-- bottom marks -->
<path class="k" d="M460,619 L468,613.500 M497.500,593 L505,586"/>
<path class="t" d="M465,596 L460,616 M482.500,594 L481,604 M502.500,584 L497.500,593 M460,620 L463,611 M505,586 L509,576"/>
<!-- leaders -->
<path class="l" d="M468.800,417.500 L468.800,480 M530,458.800 L515,471.300 M530,458.800 L545,471.300 M511.800,481 L511.800,541.300 M545.500,484 L545.500,525 M585,511 L585,550 M540,547.500 L546,540.500 M532.500,572.500 L546.300,578.800 M587.500,565 L598.800,558.800 M582.500,582.500 L573.800,600 M537.500,608 L561.300,608 M458,662.500 L453.800,653.800 M458,662.500 L485,633.800 M507.500,646.300 L516.300,647.500"/>
<path class="l" d="M529.300,575 L529.300,585"/>
<use href="#scr" x="511.800" y="473.800"/><use href="#scr" x="545.500" y="476.300"/><use href="#scr" x="585" y="503"/><use href="#scr" x="529.300" y="567"/>
<circle cx="546.800" cy="538" r="2.400" fill="#777" stroke="#333" stroke-width="0.900"/><circle cx="518.300" cy="558" r="2.400" fill="#777" stroke="#333" stroke-width="0.900"/>
<use href="#wash" x="582.500" y="565.800"/><use href="#nut44" x="582.500" y="577.500"/>
<use href="#wash" x="528.800" y="598.800"/><use href="#nut44" x="528.300" y="608.800"/>
<use href="#clip42" x="454" y="638"/><use href="#clip42" x="492" y="620.500"/>
<!-- bracket 39 -->
<path class="m" d="M483.800,673.800 L490,671.300 L496.300,676.300 L497.500,682.500 L507.500,672.500 L510,662.500 L516.300,655 L537.500,633.800 L540,643.800 L545,640 L550,631.300 L542.500,626.300 L543.800,620 L552.500,620 L557.500,626.300 L552.500,652.500 L532.500,663.800 L531.300,671.300 L500,692.500 L491.300,692.500 L490,682.500 L483.800,678.800Z"/>
<path class="t" d="M515,671 L515,665 L522.500,660 L530,665 L530,670 M522.500,660 L527,663 L527,671 M546,622 L550,625 M486,675 L492,679 L492,690 M540,643.800 L538,652"/>
<circle class="t" cx="488" cy="675" r="1.300"/><circle class="t" cx="546.500" cy="623" r="1.300"/>
</g>

<g id="p19">
<path class="k" d="M594,592 C600,584 606,577 612,571.500 C620,564 630,558 640,554.500 C648,551.500 655,550.500 660,552 C666,554 672,560 678,566 C685,572 693,579 698.800,584 C699,588 697,592 693,596 C684,603 670,611 655,618.800 C648,622 640,625 634,625 C630,622 625,617 620,610 C611,604 602,598 594,592Z"/>
<path class="m" d="M612,572.500 L616.300,573.800 C622,567 634,559 650,553 M616.300,573.800 C616,584 619,596 622.500,605 C625,612 629,619 634,625"/>
<path class="t" d="M598,589 L625,614 M602,584 L628,617 M606,579.500 L630,620 M611,577 L632,623"/>
<path d="M647.500,556 L648.500,561.500 L650.500,561 L651,556.500 M617,574 L617.500,580 L619.800,579.500 L620.500,575" fill="#555" stroke="#333" stroke-width="1.200"/>
<path class="m" d="M685,600.500 L686.500,603.500 L690.500,602 L690,598.500 M651,619.500 L652,622.500 L657,621.500 L656.500,618"/>
<path class="t" d="M620,569 C628,563 638,558 647,555.500 C652,554.500 657,554.500 660.500,556 C666,559 672,564 677,568.500 L695.500,584.500 M597,593 L613,590 M601,597 L614.500,593"/>
<path class="l" d="M682.500,567.500 L691.300,558.800"/>
</g>
<g id="p11">
<!-- left end -->
<path class="k" d="M521.300,728.800 L527.500,723.800 L546.300,716.300 M521.300,728.800 L522.500,742.500 L530,751.300 L529,746"/>
<path class="k" d="M527.500,723.800 L540,712.500 L547.500,707.500 L576.300,692.500 L585,686.300 L587.500,680 L595,672.500 L617.500,658.800 L640,650 L647.500,652.500 L655,655 L685,640 L705,627.500 L717.500,617.500 L715,612.500 L707.500,610 L690,615 L682.500,625"/>
<path class="m" d="M530,724 L542,714.500 L550,710 L578,695.500 L588,689 M590,682 L597,675.500 L619,662 L640,653.500 L652,658 L686,643.500 L706,631 L714,623 M686,622 L692,618 L706,613 L712,616"/>
<path class="m" d="M528.500,724.500 L541,713.500 L548.500,708.700 L577,694 L586.500,687.500 L589,681 L596,674 L618,660.300 L640,651.700 L648,654.300"/>
<path d="M683,625 C687,619.500 693,614.500 700,612.500 C705,611 711,611 716,613.500" fill="none" stroke="#4a4a4a" stroke-width="4.200" stroke-dasharray="2.200 0.900"/><path class="k" d="M717,613 C719,616 718.500,619 717,621.500 C713,627 704,634 695,641 M692,630 C695,626 699,623.500 703,622 L710,620"/>
<!-- scoop -->
<path class="k" d="M647.500,655 C656,661 663,667 670,672.500 C679,679 687,685 695,690 C703,695 710,699 717.500,702.500 C722,703.500 726,703.500 730,702.500 L765,682.500 C770,680 773,678 772.500,675 C772,672 771,670 770,667.500 C765,661 760,655 755,650 C747,641 738,632 730,625 C725,620 720,616 715,612.500"/>
<path class="m" d="M652,655 C661,661 668,667 674,671.500 C682,678 690,683 697,688 C705,693 712,696 718,699 C722,700 726,700 729,699 L762,680 C767,678 769,676 768.500,674 C768,672 767,670 766,668 C761,662 757,657 752,652 C744,643 736,634 728,627 C724,623 720,620 716,616.500"/>
<!-- band left -->
<path class="k" d="M585,686.300 C590,682 595,680 600,680 C605,680 610,681 615,682.500 C624,688 632,694 640,700 C652,708 664,717 675,725 C684,731 692,737 700,742.500 C705,745 709,747 712.500,750 L722.500,760"/>
<path class="k" d="M592.500,685 C596,684 601,684 605,685 C616,690 626,696 635,702.500 C647,711 659,720 670,727.500 C679,734 687,740 695,745 C700,748 705,751 710,755 L716,762"/>
<!-- band right -->
<path class="k" d="M752.500,600 C761,605 770,611 777.500,617.500 C786,625 793,634 800,642.500 C806,651 811,659 815,667.500 C819,675 822,683 825,690 L826.300,700"/>
<path class="k" d="M747.500,602.500 C756,608 765,614 772.500,620 C781,628 788,637 795,645 C801,653 806,662 810,670 C814,677 817,684 820,690 L821,700"/>
<!-- top right rail -->
<path class="k" d="M717.500,617.500 L715,607.500 L740,596.300 L775,582.500 L790,572.500 C795,570 800,568 805,568 C809,568 812,569 815,571.300 C819,575 822,579 825,582.500 L840,607.500 C846,617 851,626 855,635 L862.500,660"/>
<path class="k" d="M795,575 C799,573 803,573 807.500,573.800 C812,578 816,584 820,590 L835,615 L850,640 L856,660"/>
<path class="m" d="M790,572.500 L795,575 M800,571 C808,572 812,577 816,583 L831,609 L846,634 L853,655 M812,570 C820,574 824,581 829,590 L843,613 L857,640"/>
<path class="m" d="M720,610 L742,600 L776,586 L791,577"/>
<path class="k" d="M797.500,572.500 C803,577 808,582 812.500,586.300 L822.500,593.800 L830,602.500 L840,622.500 C843,629 845,636 845,642.500 C845,647 844,651 842.500,655 L835,667.500 L826.300,680 L823.800,687.500 L827.500,692.500 L826.300,701.300"/><path class="m" d="M845,642.500 L850,636.300 M842.500,655 L847.500,661.300 L851,655 M847.500,661.300 L833.800,683.800 L830,696.300 M851,657.500 L856.300,646"/>
<!-- front bottom -->
<path class="m" d="M826.300,700 L807.500,712.500 L752.500,740 L720,757.500 L715,762.500 L722.500,760 M822,693 L805,707.500 L750,735 L717.500,752.500 L712.500,750"/>
<path class="m" d="M800,713 L800,719 L806,720 L808,712 M745,744 L746,752 L753,751 L755,739"/>
<circle class="t" cx="803.500" cy="716" r="1.100"/><circle class="t" cx="749.500" cy="748" r="1.100"/><circle class="t" cx="828" cy="683" r="1.300"/><circle class="t" cx="846" cy="655" r="1.300"/>
<!-- left lower panel -->
<path class="k" d="M545.200,719.400 L557.300,712.800 C561,713 564,714 567.200,715 L582.600,726 L611.200,740.300 L633.200,756.800 L642,763.400 L648.600,761.200"/>
<path class="m" d="M547.400,723.800 L559.500,717.600 L567,719.500 L582.600,730.400 L609,744.700 L630,761.200"/>
<path class="m" d="M529.800,745 L546.300,737 L554,736 L562.800,739.200 L584.800,752.400 L609,765.600 L624.400,774.400"/>
<path class="m" d="M529.800,753.500 L549.600,749.100 L560.600,752.400 L584.800,767.800 L609,782.100 L630,791 L627.700,787.600 L628.800,767.800 L633.200,756.800 M636.500,761 L635.400,789.800 L630,791 M642,763.400 L636.500,772.200 L635.400,789.800"/>
<path class="t" d="M546.300,720.500 L546.300,737 L549.600,749.100 M561.700,741.400 L562.800,752.400 M584.800,752.400 L585.900,767.800 M617.800,770 L617.800,785.400 M527,726 L530,745"/>
<path class="m" d="M573.800,706.200 L602.400,726 L642,752.400 L650.800,759"/>
<path class="m" d="M648.600,761.200 L664,763.400 L699.200,752.400 L716.800,756.800 M661.800,767.800 L701.400,756.800 M652,760 L656,767 L662,767.800 M699,752.500 L703,759"/>
<circle class="t" cx="632" cy="786" r="1.200"/><circle class="t" cx="657" cy="764" r="1.200"/><circle class="t" cx="702.500" cy="756" r="1.200"/><circle class="t" cx="528" cy="748" r="1.200"/>
<!-- holes, latches -->
<ellipse class="k" cx="648.800" cy="681.300" rx="7" ry="4.800"/><path class="m" d="M642,682.500 C644,688 654,688 655.500,682.500"/>
<ellipse class="k" cx="751.300" cy="621.700" rx="7" ry="4.800"/><path class="m" d="M744.500,623 C746,628.500 756,628.500 758,623"/>
<path class="m" d="M590,718 L590,727 L594,730 L597,727 L600,730 L606,727 L607,718 M592,712 L592,724 M596,714 L596,726 M601,716 L601,728"/>
<circle cx="615.500" cy="727.500" r="1.200" fill="#444"/>
<path class="m" d="M794,592 L800,589 L812,593 L812.500,606 L806,611 L794,606Z M794,592 L806,597 L812,593 M806,597 L806,611 M797,595 L797,606 M800,596 L800,607.500 M809,596.500 L809,608"/>
<path class="k" d="M796,605 L805,609 L811,605"/>
<circle cx="816.300" cy="611.300" r="1.200" fill="#444"/>
<!-- creases -->
<path class="t" d="M580,715 L646,667 M627,740 C645,737 662,733 676,730 M657.500,665 L700,645 M830,622.500 C824,634 816,645 807.500,655"/>
<path class="t" d="M717,662 C728,671 738,680 747,689 C756,699 764,709 771,719 L777,731 M723,663.500 C735,672 746,681 756,690.500 C764,700 771,709 777,719 L786,731 M721,664 L724,662 L750,683 L747,686Z"/>
<path class="l" d="M828.800,585 L855,568.800"/>
<!-- clips 43 -->
<use href="#clip42" x="657.500" y="801.300"/><use href="#clip42" x="693.800" y="783.800"/>
<path class="l" d="M680,815 L662.500,810 M680,815 L693.800,798.800"/>
<!-- screws 24 -->
<g transform="translate(764.300,766.300) rotate(35)"><use href="#scr"/></g><g transform="translate(808.800,759.500) rotate(30)"><use href="#scr"/></g>
<path class="l" d="M786.300,756.300 L768.800,763.800 M786.300,756.300 L802.500,761.300"/>
<path class="t" d="M758.800,774 L748.800,790 M802.500,770 L795,783.800"/>
</g>

<g id="p15"><style>#p15 .k{stroke-width:1.5;stroke:#333}</style>
<!-- left section -->
<path class="m" d="M722.500,804 L739,799.500 L791.500,793.500 L799,801 L809.500,807 M722.500,804 L715,822 L718,837 L733,837 L745,852 L757,864 L769,870 L832,861 L841,853.500"/>
<path class="m" d="M717.600,816.400 L746.400,811.600 L802.400,804.400 M724,805 C732,806.500 740,808 747,809 L792,796.500 M717.600,818 L733.600,830.800 L760.800,861 L768.800,866 L832.800,858"/>
<path class="k" d="M749.500,823.500 L760,816 L796,813 L803.500,817.500 L817,840 L815.500,847.500 L811,852 L766,855 L760,852 L745,834Z"/>
<path class="m" d="M746,822 L758.500,812.500 L797,809.500 L806,815 L820,839 L818.500,849 L812.500,855 L765,858 L757.500,854 L741.500,834.500Z"/>
<path class="k" d="M805,808 L833.500,859 M812.500,805.500 L841,855"/>
<path class="m" d="M808,807 L836,858"/>
<circle cx="734.500" cy="832.500" r="2.600" fill="#555" stroke="#222"/><path class="k" d="M731,830 L738,836"/>
<circle cx="815" cy="840" r="2.200" fill="#777" stroke="#333" stroke-width="0.800"/><circle cx="806" cy="808" r="2" fill="#777" stroke="#333" stroke-width="0.800"/>
<!-- centre -->
<path class="m" d="M809.500,807 L907,747 L910,742.500 M812.500,802.500 L904,748.500"/>
<path class="k" d="M827.500,805.500 L898,765 L907,768 L916,801 L914.500,807 L850,843 L842.500,840Z"/>
<path class="m" d="M832,807 L896.500,769.500 L910,799.500 L848.500,838.500Z M831,811 L898,774 M836.500,823.500 L861.500,810 M841,831 L910,792 M884,798 L905,786 M846,836 L866,825"/>
<path class="m" d="M854.500,792 L872.500,786 M854.500,810 L868,819 M854.500,792 L854.500,810"/>
<ellipse cx="872.800" cy="803.500" rx="10.800" ry="13.500" fill="#fff" stroke="#222" stroke-width="1.300"/><ellipse class="t" cx="873" cy="803.500" rx="8.500" ry="11"/><ellipse class="m" cx="873.500" cy="804" rx="4.500" ry="6"/><ellipse class="t" cx="873.500" cy="804" rx="2" ry="3"/>
<path class="k" d="M841,855 L922,810 L923.500,804 M835,858 L923.500,811.500"/>
<path class="m" d="M838,856.500 L922,813"/>
<!-- right upright -->
<path class="m" d="M910,742.500 L908.500,724.500 L932.500,684 L938.500,678.600 L949,693 L955,720 L953.500,750 L940,780 L923.500,804"/>
<path class="m" d="M935,681 L945,694 L951,720 L949.500,749 L936.500,778 L921,800"/>
<path class="k" d="M920.500,741 L940,708 L947.500,711 L950.500,726 L949,750 L931,780 L923.500,781.500 L916,750Z"/>
<path class="m" d="M923,742 L941,711.500 L946,714 L948,727 L946.500,749 L930,776 L925.500,777.500 L919,750Z M907,768 L916,750 M916,801 L923.500,781.500 M907,747 L914,760"/>
<path class="k" d="M912,762 L920,795"/>
<circle class="t" cx="931" cy="695.400" r="1.300"/><circle class="t" cx="913" cy="724.500" r="1.300"/><circle class="t" cx="892" cy="757.500" r="1.300"/><circle class="t" cx="838" cy="790.500" r="1.300"/><circle class="t" cx="791.500" cy="796.500" r="1.300"/><circle class="t" cx="746.500" cy="805" r="1.300"/><circle class="t" cx="719.500" cy="829.500" r="1.300"/>
<!-- leaders, screws -->
<path class="l" d="M955,727.500 L967,720 M923.500,814.500 L958,846 M875.500,850.500 L905.500,877.500"/>
<g transform="translate(965.500,851) rotate(125)"><use href="#scr"/></g><g transform="translate(913,884) rotate(125)"><use href="#scr"/></g>
<path class="l" d="M715,840 L698,862 M730,850 L713,872"/>
<g fill="#fff" stroke="#333" stroke-width="1"><ellipse cx="697.500" cy="862.500" rx="3.200" ry="2.300"/><ellipse cx="712.500" cy="872.500" rx="3.200" ry="2.300"/>
<path d="M688,871 L690,868.500 L694,868.500 L696,871 L694,873.500 L690,873.500Z M701.500,882.500 L703.500,880 L707.500,880 L709.500,882.500 L707.500,885 L703.500,885Z"/></g>
<circle cx="692" cy="871" r="1" fill="#444"/><circle cx="705.500" cy="882.500" r="1" fill="#444"/><circle cx="697.500" cy="862.500" r="0.900" fill="#444"/><circle cx="712.500" cy="872.500" r="0.900" fill="#444"/>
</g>

<defs>
<g id="clip7" transform="scale(0.8)"><path d="M-8,1 L1,-4.500 L8,-1 L8,1.500 L-1,7 L-8,3.500Z" fill="#fff" stroke="#333" stroke-width="1.100"/><path d="M-8,1 L-1,4.500 L8,-1 M-1,4.500 L-1,7 M-4,-0.500 L1,2 L5,-0.500 L0,-3Z" fill="none" stroke="#333" stroke-width="0.900"/><circle cx="0.500" cy="-0.500" r="1.500" fill="#666"/></g>
<g id="nut10"><circle r="2" fill="#777" stroke="#333" stroke-width="0.900"/></g>
</defs>
<g id="p1">
<!-- top panel -->
<path class="m" d="M165,727.500 L230,716.300 L232.500,706.300 L240,707.500 M148.800,737.500 L165,727.500"/>
<path class="m" d="M148.800,737.500 C154,746 160,755 165,765 C172,777 178,789 182.500,800 C188,812 192,824 195,835 C199,845 202,855 205,865 L208.800,886.300 L217.500,886.300"/>
<path class="t" d="M157.500,732.500 C163,742 169,752 175,762.500 C181,775 187,788 192.500,800 C197,812 201,824 205,835 C208,845 211,855 213.800,865 L217.500,886.300"/>
<path class="t" d="M170,727.500 C175,737 180,747 185,757.500 C190,768 195,779 200,790 C204,801 207,812 210,822.500 C213,835 216,848 218.800,860 L220,882.500"/>
<path class="k" style="stroke-width:1.600" d="M176.300,726.300 L185,745 L200,777 L218,787.500 L260.300,801.500"/>
<path class="t" d="M180,726 L188,744 L202.500,774 L219,784 L259,797.500"/>
<path class="m" d="M230,716.300 C235,724 239,732 242.500,740 C247,750 251,760 255,770 L262.500,800 L267.500,815 L275,847.500"/>
<path class="t" d="M190,751.300 L240,755 M197.500,767.500 L252.500,775 M202.500,805 L220,787.500 M192.500,772 L202,765 M186,800 L198,796 M196,836 L208,832"/>
<circle class="t" cx="190" cy="728" r="1.300"/><circle class="t" cx="227.500" cy="721.500" r="1.300"/><circle class="t" cx="154" cy="740" r="1.300"/>
<!-- right flap -->
<path class="m" d="M232.500,706.300 L243.800,708.800 L276.300,728.800 L262.500,740 L257.500,750 L260,770 M240,707.500 L250,722.500 L257.500,750 M247.500,712.500 L272.500,727.500 M250,716 L268,731"/>
<path d="M257,773 L264,798" fill="none" stroke="#333" stroke-width="2.400" stroke-linecap="round"/>
<path class="m" d="M262,803 L268,818 L272,826"/>
<!-- tank -->
<path class="m" d="M268.800,811.300 L276.300,810 L283.800,810 C286,806 288,801 290,797.500 L293.800,792.500 L300,791.300 L302.500,786.900 C305,785.500 308,785.500 310,786.900 C313,788 315,789.500 317.500,791.300 C321,794.500 324,798 327.500,802.500 C331,807 334,812 336.300,816.300 L332.500,827.500 L327.500,836.300 L317.500,835 L305,833.800 L297.500,835 C294,833 292,832 290,830 L286.300,823.800 L277.500,820 L270,819"/>
<path class="m" d="M302.500,786.900 L300,792.500 L305,797.500 C309,802 312,807 315,812.500 C318,818 320,824 322.500,830 L327.500,836.300 M310,788 L317.500,792.500"/>
<path class="k" d="M301,790 C303,786 308,785 311,787"/>
<path class="t" d="M293,796 L283,812 M297,800 C301,806 304,815 305,833.800 M286.300,823.800 L296,822 L305,826"/>
<g class="m"><rect x="318.300" y="795.500" width="3.400" height="5" rx="1" transform="rotate(-35 320 798)"/><rect x="323.300" y="801.500" width="3.400" height="5" rx="1" transform="rotate(-35 325 804)"/><rect x="327" y="807.500" width="3.400" height="5" rx="1" transform="rotate(-35 328.700 810)"/><rect x="330.800" y="813.800" width="3.400" height="5" rx="1" transform="rotate(-35 332.500 816.300)"/></g>
<circle class="m" cx="297.500" cy="795" r="2.200"/>
<path class="t" d="M261.900,796.300 L267.500,815 L275,851.300 M266.900,796.300 L271.300,813.800 L277.500,850"/>
<!-- floor -->
<path class="m" d="M225,853.800 L240,846.300 L248.800,860 L295,837.500 M225,853.800 L218.800,875 L220,886 M218.800,876 L325,898.800 M240,846.300 L243,854 L251,862"/>
<path class="k" d="M227.500,855 L250,862.500 L322.500,886.300"/>
<path class="m" d="M228,880 L320,897.500 M275,851.300 L295,837.500 M305,833.800 L327.500,836.300"/>
<path class="t" d="M291.900,840 L291.900,866.300 M304.400,833.800 L304.400,857.500 M258,866 L253,879 M268,869 L264,884 M300,878 L296,892 M252.500,862.500 L295,838"/>
<path class="m" d="M267.500,860 L281.300,855 L292.500,860 L278.800,866.300Z M281.300,870 L317.500,852.500 M284,873 L320,856 M295,876 L321,866 M305,880 L322,874"/>
<path d="M281,856.500 L288,858.500 M296,860 L302,862 M314,872.500 L320,874.500 M303,877 L312,879.500" fill="none" stroke="#444" stroke-width="2"/>
<!-- long leader -->
<path class="l" d="M156.300,916.300 L305,833.800 M156.300,916.300 L156.300,900 M171.300,908 L171.300,894"/>
<!-- fender arcs -->
<path class="m" d="M372.500,773.800 C365,782 358,791 352.500,800 C346,810 341,820 337.500,830 C333,842 330,854 328.800,865 C326,882 324,900 323.800,917.500"/>
<path class="m" d="M380,771.300 C372,780 365,790 359,800 C353,810 349,820 345,830 C341,842 337,854 335,865 C333,880 332,895 331.300,910 L323.800,917.500"/>
<path class="m" d="M372.500,773.800 L400,758.800 L418.800,752.500 L413.800,762.500 L422.500,767.500"/>
<path class="t" d="M405,756.300 C399,765 394,774 390,782.500 C386,793 383,804 381.300,815 C380,825 379,835 378.800,845 L377.500,880 M411.300,757.500 C405,767 399,777 395,787.500 C391,798 388,809 386.300,820 C385,830 384,840 383.800,850 L382.500,875"/>
<path class="t" d="M420,770 C418,778 416,787 415,795 C413,804 411,813 410,822.500 L406.300,835 L395,840 L387.500,857.500 L382.500,875"/>
<path class="m" d="M372.500,773.800 L380,790 L383.800,793.800 M380,771.300 L383.800,793.800"/>
<circle cx="375" cy="793.800" r="1.100" fill="#444"/>
<path class="f" d="M360,813.800 L381.300,812.500 M386.300,788.800 L418.800,785 M382.500,825 L410,821 M337.500,847.500 C350,838 365,830 380,825"/>
<path class="t" d="M347.500,845 L342.500,890 M335,890 L336.300,905 M342.500,894 L380,876.300 M346,892 L348,896 M352,889 L354,893"/>
<!-- splash shield -->
<path class="m" d="M422.500,767.500 L458.800,785 L462.500,815 L462.500,847.500 L440,851.300 L436.300,857.500 L436.300,881.300 L420,878.800 L412.500,875 L407.500,868.800 L402.500,872.500 L392.500,871.300 L387.500,862.500 L387.500,857.500 M406.300,835 L412.500,875"/>
<path class="t" d="M424,770 L457,786.500"/>
<!-- part 31 strip -->
<path class="m" d="M216.300,903.800 C222,909 228,914 235,917.500 C241,920 247,920.500 252.500,920 C259,918 265,916 270,912.500 L271.300,917.500 C266,921 260,924 255,925 C247,926 239,925 232.500,922.500 C226,919 221,914 216.300,908.800Z"/>
<path class="t" d="M240,910 C248,909 254,907 257.500,905 C261,901 263,896 263.500,891"/><path d="M263,887.500 L265.500,893 L260.500,892.500Z" fill="#333"/>
<path class="l" d="M220,920 L229,919"/>
<!-- screws -->
<use href="#scr" x="157.500" y="878.800"/><use href="#scr" x="171.300" y="872.500"/>
<ellipse class="m" cx="156.800" cy="897" rx="3.600" ry="1.800"/><ellipse class="m" cx="171.300" cy="891.300" rx="3.600" ry="1.800"/>
<path class="l" d="M142.500,885 L152,885 M142.500,907.500 L152.500,900 M170,796 L180,796.300"/>
<!-- clips 4 -->
<g class="t" stroke-dasharray="5 3"><path d="M170,680 L180,677.500 M170,681 L187.500,722.500 M213.800,676.300 L223.800,672.500 M213.800,677.500 L227.500,715 M138.800,745 L153.800,740"/></g>
<path class="l" d="M181.300,657.500 L187.500,670 M225,653.800 L228.800,665 M131.300,730 L130,742.500 M371.300,752.500 L378.800,763.800 M405,742.500 L410,751.300"/>
<use href="#clip4" x="185" y="675"/><use href="#clip4" x="230" y="670.500"/><use href="#clip4" x="130.500" y="751.300"/>
<use href="#clip4" x="368.800" y="745" transform="rotate(-85 368.800 745)"/><use href="#clip4" x="401.800" y="735" transform="rotate(-85 401.800 735)"/>
<!-- nut 2 -->
<path d="M293,767 L295.500,764.500 L300,764.500 L302.500,766.500 L302.500,769 L300,771.500 L295.500,771.500 L293,769.500Z" fill="#fff" stroke="#333" stroke-width="1"/><ellipse class="t" cx="297.800" cy="767" rx="2.200" ry="1.200"/>
<path class="l" d="M305,768.800 L318.800,768.800"/><path class="f" stroke-dasharray="2 2" d="M297.500,773 L297.500,780"/>
<!-- clips 7, nuts 10 -->
<path class="t" stroke-dasharray="8 2 2 2" d="M290,896.300 L292.500,952 M315,928.800 L316,940"/>
<path class="l" d="M292.800,963 L293,978 M316.500,948 L317.500,963 M272.500,959.500 L282.500,959.500 M276.300,981.300 L288.800,980 M300,976.300 L311.300,970"/>
<use href="#clip7" x="292.500" y="958"/><use href="#clip7" x="316.300" y="943"/>
<use href="#nut10" x="293" y="980.500"/><use href="#nut10" x="317.500" y="965.500"/>
</g>
<g id="box3">
<path class="l" d="M303.800,550 L375,537.500 L381.300,718.800 L301.300,746.300 L271.300,690 L307.500,663.800Z"/>
<path class="t" d="M331.300,596.300 L353.800,572.500 L367.500,583.800 L355,603.800Z"/><circle class="t" cx="353.800" cy="588.800" r="1.200"/>
<path class="t" d="M351,592.500 C349,598 347,603 345,607.500 C340,614 334,620 330,625 C327,629 325,633 323.800,637.500 L322.500,660"/>
<path class="l" d="M332.500,568.800 L340,582.500"/>
<path class="m" d="M293.200,684.700 L337.200,664.900 L340,666 C340,670 340.500,674 341,677 C342,680 343,682 344.900,684.700 L353.700,696.800 M293.200,684.700 C292,690 291.500,695 291.600,699 C292,704 293,708 294.300,712.200 L299.800,723.200 L298.700,729.800"/>
<path class="t" d="M294.500,686.500 L338,667"/>
<path d="M294.300,699 L338.300,671.500" fill="none" stroke="#777" stroke-width="1.600"/>
<path class="m" d="M327.300,688 C328,685 330,684 331.700,685.300 L341.600,684.700 M327.300,689 C327,692 327.500,694 328.400,696.800 C329,699 330,701 331.700,703.400 L337.200,706.700 M332.800,688 C333,691 334,693 335,695.700 C337,698 339,701 341.600,703.400 L346,705.600 M341.600,684.700 L346,691 L351.500,697.900"/>
<path class="m" d="M302,725.400 L331.700,705.600 M307.500,733.100 L324,729.800 L337.200,712.200 L346,707.800 M310.800,728.700 L335,707.800"/>
<circle class="m" cx="303.700" cy="729.800" r="4.300"/><circle class="t" cx="303.700" cy="729.800" r="2.400"/>
<path class="m" d="M346,704.500 L354.800,697.900 L359.200,699 L368,703.400 L366.900,707.800 L359.200,712.200 L350.400,712.200 L346,708.500Z"/>
<path d="M349,702.500 L357,711 M352,700.500 L360,709.500" fill="none" stroke="#555" stroke-width="2"/>
<path class="m" d="M368,705 L375.700,712.200 L372.400,715.500 L365.800,708.900"/>
</g>

<g id="p21">
<path class="m" d="M93.800,1001.300 L106.300,1005 L112.500,1003.800 L112.500,1017.500 L127.500,1012.500 L126.300,1035 L107.500,1047.500 L95,1040Z M106.300,1005 L106.300,1046"/>
<path class="m" d="M113.800,1002.500 L120,988.800 L127.500,983.800 L147.500,993.800 L160,1002.500 L172.500,1010 L212.500,1047.500 L211.300,1052.500 L182.500,1061.300 L177.500,1058.800"/>
<path class="m" d="M113.800,1010 L130,1006.300 C134,1004 138,1003 140,1003.800 C144,1005 146,1007 147.500,1010 C149,1016 149,1022 150,1027.500 L152.500,1032.500 L177.500,1058.800"/>
<path class="t" d="M127.500,983.800 L132,990 L127.500,1006 M120,988.800 L126,994 M147.500,993.800 L138,1003 M160,1002.500 L150,1015 M150,1017.500 L180,1042.500 L177.500,1058.800 M180,1042.500 L192.500,1025 M180,1042.500 L190,1055 L210,1050 M156,1030 L157,1037 M163,1035 L164,1043 M190,1055 L205,1046"/>
<path class="m" d="M160,1002 L166.300,997.500 C170,999 172,1002 172.500,1006.300"/>
<path class="k" d="M166,1037 L169,1043"/>
<path class="l" d="M191.300,1026.300 L205,1013.800 M87.500,1070 L138.800,1038.800 M116.300,1092.500 L156.300,1067 M81.300,1078.800 L78.800,1093.800 L105,1097.500"/>
<g transform="translate(80,1074.300) rotate(-120)"><use href="#scr"/></g><g transform="translate(109.500,1096.300) rotate(-120)"><use href="#scr"/></g>
</g>
<g id="clips42L">
<use href="#clip42" x="98.300" y="600"/><use href="#clip42" x="134.800" y="581.600"/>
<path class="l" d="M125,617.700 L106,608 M125,617.700 L137,597"/>
</g>

<g id="tail">
<path class="l" stroke-dasharray="12 3" d="M471,1096.500 L717.600,1095.400 L775.200,1102.400 L832.800,1152 L743.200,1243.200 L476.400,1227 L452,1170Z"/>
<!-- nuts 30 -->
<g fill="#fff" stroke="#333" stroke-width="1.100">
<path d="M352.500,1128 L356,1125.500 L363,1127 L364.500,1132 L362,1137 L355,1137.500 L352.500,1133.500Z"/><ellipse cx="357" cy="1131.500" rx="2.600" ry="3.400"/>
<path d="M369.500,1165 L373,1162.500 L380,1164 L381.500,1169 L379,1174 L372,1174.500 L369.500,1170.500Z"/><ellipse cx="374" cy="1168.500" rx="2.600" ry="3.400"/>
</g>
<!-- grommets 37 -->
<g fill="#fff" stroke="#333" stroke-width="1.100">
<ellipse cx="409" cy="1135" rx="3.500" ry="6.500"/><ellipse cx="405.500" cy="1135" rx="3.500" ry="5.500"/><ellipse cx="401.500" cy="1134" rx="4.500" ry="7.500"/><ellipse cx="401.500" cy="1134" rx="1.800" ry="3"/>
<ellipse cx="407.500" cy="1171" rx="3.500" ry="6.500"/><ellipse cx="404" cy="1171" rx="3.500" ry="5.500"/><ellipse cx="400" cy="1170" rx="4.500" ry="7.500"/><ellipse cx="400" cy="1170" rx="1.800" ry="3"/>
</g>
<!-- spacers 38 -->
<g fill="#fff" stroke="#333" stroke-width="1">
<path d="M426,1132 H434 V1139.500 H426Z"/><ellipse cx="426" cy="1135.800" rx="1.800" ry="3.800" fill="#888"/>
<path d="M424.500,1166.500 H432.500 V1174 H424.500Z"/><ellipse cx="424.500" cy="1170.300" rx="1.800" ry="3.800" fill="#888"/>
</g>
<path class="t" stroke-dasharray="14 3 3 3" d="M366,1132.500 L396,1133.500 M413,1135 L423,1135.500 M436,1136 L512,1140 M383,1169 L394,1169.500 M412,1170.500 L422,1170.500 M434,1171 L460,1171.500"/>
<path class="l" d="M324.500,1158 L353,1134 M324.500,1158 L369.500,1170 M401,1179 L401,1192.500 M429.500,1176 L434,1185"/>
<!-- housing 23 -->
<path class="k" d="M521,1118.400 L527,1120.500 L554,1176 L554,1200 L548,1209 L518,1150.500Z"/>
<path class="m" d="M523.500,1123 L527,1124.500 L551,1177 L551,1198 L547.500,1203.500 L520.500,1150Z"/>
<path class="m" d="M527,1120.500 L556,1133 L562,1153 L573.500,1172 L564,1198 L554,1201 M556,1133 L545,1158 M562,1153 L548,1172 M554,1176 L573.500,1172 M530,1140 L540,1160 L545,1176"/>
<path class="m" d="M513,1138 H526 V1142 H513Z"/>
<path class="m" d="M482,1172 C495,1172 505,1180 515,1178 C525,1176 530,1168 545,1170 M482,1175 C495,1176 505,1184 516,1181.500 C527,1179 532,1172 546,1174"/>
<path class="m" d="M466,1168 L471,1165 L482,1169 L482,1178 L477,1181 L466,1177Z M466,1168 L477,1172 L482,1169 M477,1172 L477,1181"/>
<path class="m" d="M459,1170 L466,1171 M459,1173 L466,1174 M482,1172 L490,1174 L490,1178 L482,1176"/><circle cx="459" cy="1171.500" r="1.800" fill="#fff" stroke="#333"/>
<path class="m" d="M535,1173 L549,1175 L549,1180 L535,1178Z"/>
<!-- gasket 28 -->
<path class="k" d="M574.600,1132.800 L580,1132.800 L608.800,1188.800 L608.800,1214.400 L602.400,1222.400 L574.600,1168Z"/>
<path class="m" d="M577,1137 L580,1137.500 L606,1189.500 L606,1212.500 L602.500,1217 L577,1167Z"/>
<!-- bulb 27 -->
<path class="m" d="M611,1157 L630,1155 C640,1154 646,1159 646,1164.500 C646,1170 640,1175 630,1174 L611,1170"/>
<ellipse class="m" cx="610" cy="1163.500" rx="3.600" ry="6.500"/><path class="t" d="M617,1156.500 C620,1160 620,1167 617,1171 M626,1155.500 C629,1160 629,1168 626,1173.500"/>
<!-- lens 26 -->
<path class="m" d="M661.600,1121.600 L677.600,1124.800 C690,1129 700,1133 706.400,1137.600 C712,1141 716,1145 719.200,1150.400 C724,1160 728,1170 730.400,1179.200 L725.600,1198.400 L690.400,1209.600 L663.200,1156.800Z"/>
<path class="m" d="M661.600,1121.600 L677.600,1144 L692,1179.200 L690.400,1209.600 M677.600,1144 C692,1144 706,1146 719.200,1150.400 M663.200,1154.500 L692,1176 M692,1179.200 C705,1177 718,1177 730.400,1179.200"/>
<!-- screws 29 -->
<g stroke="#222" stroke-width="1" fill="#666"><rect x="742.500" y="1144.500" width="3" height="5.500" rx="1.500" fill="#fff"/><rect x="745.500" y="1145.300" width="11" height="4"/><rect x="758.500" y="1174" width="3" height="5.500" rx="1.500" fill="#fff"/><rect x="761.500" y="1174.800" width="11" height="4"/></g>
<path class="l" d="M784.800,1153 L757.600,1147.200 M784.800,1153 L773.600,1174.400 M640.800,1136 L636,1155.200 M679.200,1190.400 L664.800,1202.200 M554.400,1127.400 L551.500,1132"/>
</g>

<g id="mid7">
<path class="t" stroke-dasharray="8 2 2 2" d="M619,439 L619,472 M642,452 L642.300,459"/>
<path class="l" d="M619.500,482 L620.500,503 M642.500,468 L642.800,489 M640,518.500 L626,510 M640,518.500 L643.500,498 M627,503 L638.500,496.500 M609,479 L613,479"/>
<use href="#clip7" x="620" y="477"/><use href="#clip7" x="642.500" y="463"/>
<use href="#nut10" x="620.500" y="506.500"/><use href="#nut10" x="643.200" y="492"/>
</g>

<!--/PARTS-->
<g id="labels">
<text x="335" y="24">32</text>
<text x="427" y="142.1" style="font-size:20px">20</text>
<text x="345" y="254.7" style="font-size:19px">13</text>
<text x="237" y="267">41</text>
<text x="113" y="309">41</text>
<text x="406" y="464">38</text>
<text x="226" y="584">38</text>
<text x="334" y="516">45</text>
<text x="322" y="564">5</text>
<text x="356.500" y="684.500">3</text>
<text x="128" y="638">42</text>
<text x="178" y="656">4</text>
<text x="222" y="649">4</text>
<text x="130" y="722">4</text>
<text x="363" y="735">4</text>
<text x="400" y="725">4</text>
<text x="159" y="799">1</text>
<text x="326" y="774">2</text>
<text x="137" y="887">9</text>
<text x="135" y="918">8</text>
<text x="206" y="927">31</text>
<text x="254" y="966">7</text>
<text x="259" y="993">10</text>
<text x="215" y="1016">21</text>
<text x="59" y="1114">24</text>
<text x="302" y="1163">30</text>
<text x="398.600" y="1207.500">37</text>
<text x="437.600" y="1199.400">38</text>
<text x="559" y="1118">23</text>
<text x="603" y="1128">28</text>
<text x="647" y="1127">27</text>
<text x="666" y="1226">26</text>
<text x="799" y="1157">29</text>
<text x="699" y="1270">25</text>
<text x="467" y="409.7" style="font-size:19px">17</text>
<text x="531" y="456">34</text>
<text x="583" y="492">12</text>
<text x="529" y="557">18</text>
<text x="613" y="558">43</text>
<text x="556" y="593">12</text>
<text x="506" y="610">43</text>
<text x="570" y="615">44</text>
<text x="456" y="681">42</text>
<text x="496" y="652">39</text>
<text x="698" y="553">19</text>
<text x="602" y="483">7</text>
<text x="640" y="535">10</text>
<text x="868" y="569.7" style="font-size:19px">11</text>
<text x="981" y="723.7" style="font-size:19px">15</text>
<text x="786" y="753">24</text>
<text x="680" y="830">43</text>
<text x="685" y="852">8</text>
<text x="670" y="868">10</text>
<text x="963" y="892">40</text>
<text x="559" y="180">4</text>
<text x="595" y="151">4</text>
<text x="633" y="162">4</text>
<text x="643" y="249">6</text>
<text x="682" y="280">9</text>
<text x="682" y="300">8</text>
<text x="766" y="280">4</text>
<text x="783" y="244">4</text>
<text x="854" y="317">4</text>
<text x="871" y="370">31</text>
<text x="901" y="121">24</text>
<text x="893" y="224">22</text>
</g>
</g>
</svg>
</body></html>
